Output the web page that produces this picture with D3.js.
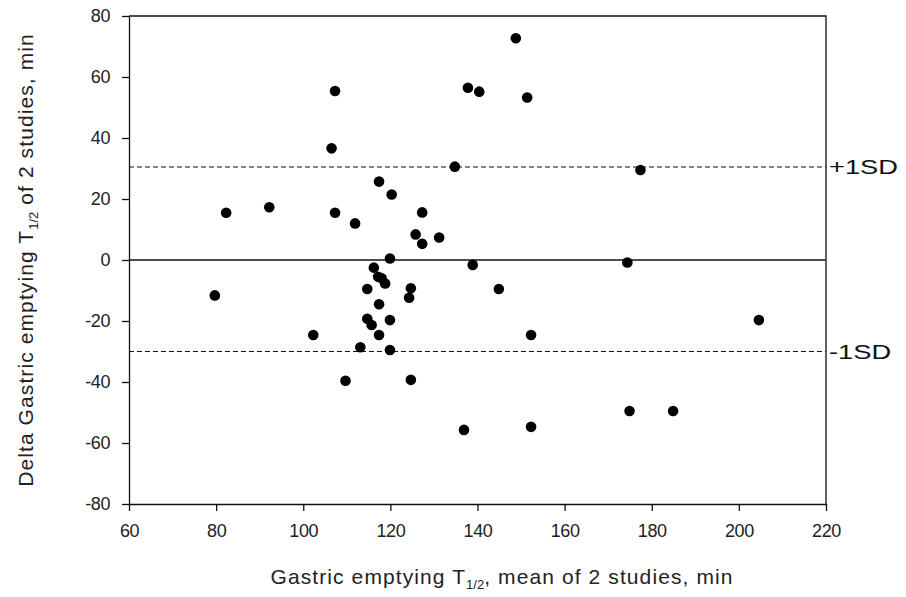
<!DOCTYPE html>
<html>
<head>
<meta charset="utf-8">
<script src="https://cdn.jsdelivr.net/npm/d3@7"></script>
<style>
  body { margin: 0; background: #fff; }
  svg text { font-family: "Liberation Sans", Arial, sans-serif; }
</style>
</head>
<body>
<div id="chart"></div>
<script>
// mean of 2 studies (x) and difference (y)
let meanT = [79.7, 82.3, 92.2, 102.3, 106.5, 107.3, 107.3, 109.7, 111.9, 113.1,
  114.7, 114.7, 115.7, 116.2, 117.2, 118, 118.8, 117.4, 117.4, 117.4,
  119.9, 119.9, 119.9, 120.3, 124.7, 124.3, 124.7, 125.8, 127.3, 127.3,
  131.2, 134.8, 136.9, 137.8, 138.9, 140.4, 144.9, 148.8, 151.4, 152.3,
  152.3, 174.4, 174.9, 177.4, 184.9, 204.6];
let deltaT = [-11.6, 15.5, 17.3, -24.6, 36.6, 55.4, 15.5, -39.6, 12, -28.6,
  -9.5, -19.3, -21.3, -2.5, -5.5, -6, -7.7, -14.5, -24.6, 25.7,
  0.5, -19.7, -29.5, 21.5, -9.3, -12.4, -39.3, 8.4, 15.6, 5.3,
  7.4, 30.6, -55.7, 56.5, -1.6, 55.2, -9.5, 72.7, 53.3, -24.6,
  -54.7, -0.8, -49.5, 29.5, -49.5, -19.7];

let xTicks = [60, 80, 100, 120, 140, 160, 180, 200, 220];
let yTicks = [-80, -60, -40, -20, 0, 20, 40, 60, 80];

// reference lines
let sdLabels = ["+1SD", "-1SD"];
let sdValues = [30.5, -30];

let width = 906,
  height = 597,
  margin = { top: 16, right: 80, bottom: 93, left: 129 };

let x = d3.scaleLinear().domain([60, 220]).range([margin.left, width - margin.right]);
let y = d3.scaleLinear().domain([-80, 80]).range([height - margin.bottom, margin.top]);

let svg = d3.select("#chart")
  .append("svg")
  .attr("width", width)
  .attr("height", height);

// Achsen
let xAxis = svg.append("g")
  .attr("transform", "translate(0," + y(-80) + ")")
  .call(d3.axisBottom(x).tickValues(xTicks).tickFormat(d => String(d))
    .tickSize(7).tickPadding(13).tickSizeOuter(0));

let yAxis = svg.append("g")
  .attr("transform", "translate(" + x(60) + ",0)")
  .call(d3.axisLeft(y).tickValues(yTicks).tickFormat(d => String(d))
    .tickSize(7).tickPadding(12).tickSizeOuter(0));

[xAxis, yAxis].forEach(function(a) {
  a.selectAll(".domain, line").attr("stroke", "#111").attr("stroke-width", 1.3);
  a.selectAll("text")
    .attr("fill", "#222")
    .style("font-size", "18px")
    .style("letter-spacing", "-0.4px");
});

// Rahmen oben und rechts
svg.append("path")
  .attr("d", "M" + x(60) + "," + y(80) + "H" + x(220) + "V" + y(-80))
  .attr("fill", "none")
  .attr("stroke", "#111")
  .attr("stroke-width", 1.3);

// Nulllinie
svg.append("line")
  .attr("x1", x(60)).attr("x2", x(220))
  .attr("y1", y(0)).attr("y2", y(0))
  .attr("stroke", "#111")
  .attr("stroke-width", 1.3);

// SD-Linien
sdValues.forEach(function(v, i) {
  svg.append("line")
    .attr("x1", x(60)).attr("x2", x(220))
    .attr("y1", y(v)).attr("y2", y(v))
    .attr("stroke", "#111")
    .attr("stroke-width", 1.1)
    .attr("stroke-dasharray", "5,3");
  svg.append("text")
    .attr("transform", "translate(" + (x(220) + 3) + "," + y(v) + ") scale(1.4,1)")
    .attr("dy", "0.36em")
    .style("font-size", "19.5px")
    .attr("fill", "#111")
    .text(sdLabels[i]);
});

// Punkte
svg.selectAll("circle.pt")
  .data(meanT)
  .enter()
  .append("circle")
  .attr("class", "pt")
  .attr("cx", function(d) { return x(d); })
  .attr("cy", function(d, i) { return y(deltaT[i]); })
  .attr("r", 5.3)
  .attr("fill", "#000");

// Achsentitel
let xt = svg.append("text")
  .attr("x", 502)
  .attr("y", 584)
  .attr("text-anchor", "middle")
  .style("font-size", "21px")
  .style("letter-spacing", "1.1px")
  .attr("fill", "#222");
xt.append("tspan").text("Gastric emptying T");
xt.append("tspan").attr("dy", 5).style("font-size", "13px").style("letter-spacing", "0px").text("1/2");
xt.append("tspan").attr("dy", -5).text(", mean of 2 studies, min");

let yt = svg.append("text")
  .attr("transform", "translate(33," + y(0) + ") rotate(-90)")
  .attr("text-anchor", "middle")
  .style("font-size", "21px")
  .style("letter-spacing", "1.1px")
  .attr("fill", "#222");
yt.append("tspan").text("Delta Gastric emptying T");
yt.append("tspan").attr("dy", 5).style("font-size", "13px").style("letter-spacing", "0px").text("1/2");
yt.append("tspan").attr("dy", -5).text(" of 2 studies, min");
</script>
</body>
</html>
